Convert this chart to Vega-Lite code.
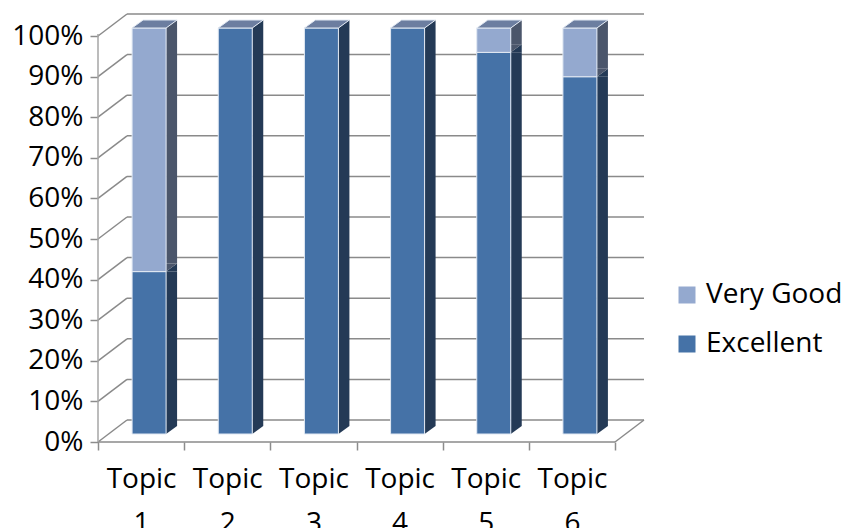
{
  "$schema": "https://vega.github.io/schema/vega-lite/v6.json",
  "width": 517,
  "height": 406,
  "autosize": {"type": "none"},
  "padding": {"left": 98, "top": 28, "right": 235, "bottom": 94},
  "background": "white",
  "config": {
    "view": {"stroke": null},
    "font": "Open Sans",
    "axis": {
      "domain": false, "grid": false, "title": null,
      "tickColor": "#8C8C8C", "tickWidth": 1.5, "tickSize": 8,
      "labelFont": "Open Sans", "labelFontSize": 28, "labelColor": "#000000"
    },
    "axisY": {"offset": 0, "tickOffset": 8, "labelPadding": 7},
    "axisX": {"offset": 8, "tickBand": "extent", "labelAngle": 0, "labelLineHeight": 44, "labelPadding": 15},
    "legend": {
      "orient": "none",
      "legendX": 575,
      "legendY": 253,
      "padding": 0,
      "symbolType": "square",
      "symbolSize": 289,
      "symbolStrokeWidth": 0,
      "labelFontSize": 28,
      "labelFont": "Open Sans",
      "labelColor": "#000000",
      "labelOffset": 5,
      "rowPadding": 21,
      "title": null
    }
  },
  "datasets": {
    "ratings": [
      {"topic": "Topic 1", "category": "Excellent", "value": 40},
      {"topic": "Topic 1", "category": "Very Good", "value": 60},
      {"topic": "Topic 2", "category": "Excellent", "value": 100},
      {"topic": "Topic 2", "category": "Very Good", "value": 0},
      {"topic": "Topic 3", "category": "Excellent", "value": 100},
      {"topic": "Topic 3", "category": "Very Good", "value": 0},
      {"topic": "Topic 4", "category": "Excellent", "value": 100},
      {"topic": "Topic 4", "category": "Very Good", "value": 0},
      {"topic": "Topic 5", "category": "Excellent", "value": 94},
      {"topic": "Topic 5", "category": "Very Good", "value": 6},
      {"topic": "Topic 6", "category": "Excellent", "value": 88},
      {"topic": "Topic 6", "category": "Very Good", "value": 12}
    ],
    "grid": [
      {"v": 0}, {"v": 10}, {"v": 20}, {"v": 30}, {"v": 40}, {"v": 50},
      {"v": 60}, {"v": 70}, {"v": 80}, {"v": 90}, {"v": 100}
    ]
  },
  "layer": [
    {
      "data": {"name": "grid"},
      "mark": {"type": "rule", "color": "#8A8A8A", "strokeWidth": 1.5, "xOffset": 29, "x2Offset": 29, "yOffset": -14},
      "encoding": {
        "x": {"datum": "Topic 1", "bandPosition": 0, "type": "nominal"},
        "x2": {"value": "width"},
        "y": {"field": "v", "type": "quantitative", "scale": {"domain": [0, 100], "nice": false},
          "axis": {
            "title": null,
            "values": [0, 10, 20, 30, 40, 50, 60, 70, 80, 90, 100],
            "labelExpr": "datum.value + '%'"
          }
        }
      }
    },
    {
      "data": {"name": "grid"},
      "mark": {"type": "rule", "color": "#8A8A8A", "strokeWidth": 1.5, "xOffset": 0, "x2Offset": 29, "yOffset": 8, "y2Offset": -14},
      "encoding": {
        "x": {"datum": "Topic 1", "bandPosition": 0, "type": "nominal"},
        "x2": {"value": 0},
        "y": {"field": "v", "type": "quantitative"},
        "y2": {"field": "v"}
      }
    },
    {
      "data": {"name": "grid"},
      "transform": [{"filter": "datum.v == 0"}],
      "mark": {"type": "rule", "color": "#8A8A8A", "strokeWidth": 1.5, "yOffset": 8},
      "encoding": {
        "x": {"datum": "Topic 1", "bandPosition": 0, "type": "nominal"},
        "x2": {"value": "width"},
        "y": {"field": "v", "type": "quantitative"}
      }
    },
    {
      "data": {"name": "grid"},
      "transform": [{"filter": "datum.v == 0"}],
      "mark": {"type": "rule", "color": "#8A8A8A", "strokeWidth": 1.5, "x2Offset": 29, "yOffset": 8, "y2Offset": -14},
      "encoding": {
        "x": {"datum": "Topic 6", "bandPosition": 1, "type": "nominal"},
        "x2": {"value": "width"},
        "y": {"field": "v", "type": "quantitative"},
        "y2": {"field": "v"}
      }
    },
    {
      "data": {"name": "grid"},
      "transform": [{"filter": "datum.v == 0"}],
      "mark": {"type": "rule", "color": "#A6A6A6", "strokeWidth": 1.5, "yOffset": 8, "y2Offset": 6},
      "encoding": {
        "x": {"datum": "Topic 1", "bandPosition": 0, "type": "nominal"},
        "y": {"field": "v", "type": "quantitative"},
        "y2": {"datum": 100}
      }
    },
    {
      "data": {"name": "ratings"},
      "transform": [
        {"filter": "datum.value > 0"},
        {"stack": "value", "groupby": ["topic"], "sort": [{"field": "category", "order": "ascending"}], "as": ["v0", "v1"]}
      ],
      "layer": [
        {
          "mark": {"type": "bar", "size": 11, "xOffset": 30.5, "y2Offset": -8, "strokeWidth": 0},
          "encoding": {
            "x": {"field": "topic", "type": "nominal"},
            "y": {"field": "v1", "type": "quantitative"},
            "y2": {"field": "v0"},
            "fill": {"condition": {"test": "datum.category == 'Excellent'", "value": "#243A56"}, "value": "#4B566B"}
          }
        },
        {
          "mark": {"type": "point", "shape": "M17,0L28,-8L28,0Z", "size": 4, "filled": true, "opacity": 1, "strokeWidth": 0, "xOffset": 8},
          "encoding": {
            "x": {"field": "topic", "type": "nominal"},
            "y": {"field": "v1", "type": "quantitative"},
            "fill": {"condition": {"test": "datum.category == 'Excellent'", "value": "#243A56"}, "value": "#4B566B"}
          }
        },
        {
          "mark": {"type": "point", "shape": "M17,-8L28,-8L17,0Z", "size": 4, "filled": true, "opacity": 1, "strokeWidth": 0, "xOffset": 8},
          "encoding": {
            "x": {"field": "topic", "type": "nominal"},
            "y": {"field": "v0", "type": "quantitative"},
            "fill": {"condition": {"test": "datum.category == 'Excellent'", "value": "#243A56"}, "value": "#4B566B"}
          }
        },
        {
          "mark": {"type": "bar", "size": 34, "xOffset": 8, "stroke": "#E2E9F3", "strokeWidth": 1},
          "encoding": {
            "x": {
              "field": "topic", "type": "nominal",
              "scale": {"domain": ["Topic 1", "Topic 2", "Topic 3", "Topic 4", "Topic 5", "Topic 6"], "paddingInner": 0, "paddingOuter": 0},
              "axis": {"title": null, "orient": "bottom", "labelExpr": "split(datum.label, ' ')"}
            },
            "y": {"field": "v1", "type": "quantitative"},
            "y2": {"field": "v0"},
            "color": {
              "field": "category", "type": "nominal",
              "scale": {"domain": ["Very Good", "Excellent"], "range": ["#94A9CF", "#4572A7"]},
              "legend": {}
            }
          }
        },
        {
          "transform": [{"filter": "datum.v1 == 100"}],
          "mark": {"type": "point", "shape": "M-17,0L17,0L28,-8L-6,-8Z", "size": 4, "filled": true, "opacity": 1, "fill": "#6C7EA0", "stroke": "#E2E9F3", "strokeWidth": 1, "xOffset": 8},
          "encoding": {
            "x": {"field": "topic", "type": "nominal"},
            "y": {"field": "v1", "type": "quantitative"}
          }
        }
      ]
    }
  ]
}
